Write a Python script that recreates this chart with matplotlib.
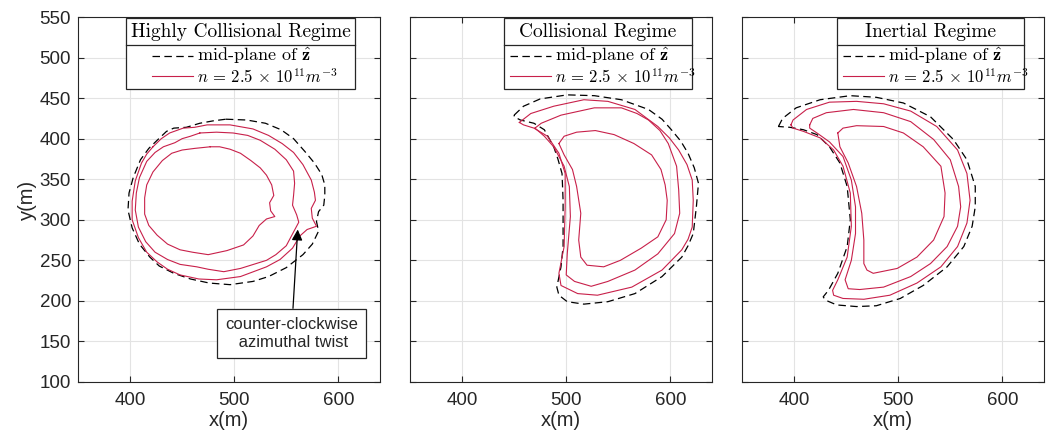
import numpy as np
import matplotlib.pyplot as plt
import matplotlib.patches as patches

plt.rcParams['font.family'] = ['Liberation Sans', 'DejaVu Sans']
plt.rcParams['mathtext.fontset'] = 'cm'

RED = '#c8204a'
DARK = '#262626'

# ---- panel 1: highly collisional ----
hc_dash = [(492, 424), (512, 423), (530, 419), (545, 411), (557, 400), (568, 384), (577, 370),
           (584, 356), (587, 343), (587, 330), (586, 318), (581, 310), (579, 298), (581, 286),
           (575, 270), (566, 257), (550, 241), (533, 230), (518, 224), (496, 220), (476, 222),
           (458, 227), (442, 234), (428, 243), (419, 254), (409, 270), (402, 290), (398, 312),
           (399, 333), (403, 352), (410, 374), (418, 388), (426, 398), (435, 409), (442, 413),
           (454, 414), (467, 419), (480, 422), (492, 424)]
hc_red1 = [(422, 390), (430, 400), (438, 407), (451, 413), (462, 414), (474, 417), (496, 417),
           (518, 412), (533, 404), (546, 394), (557, 383), (566, 368), (574, 349), (577, 334),
           (578, 324), (574, 314), (575, 302), (579, 292), (570, 288), (563, 280), (556, 265),
           (544, 251), (531, 242), (506, 230), (483, 226), (466, 227), (448, 232), (436, 239),
           (426, 248), (416, 260), (408, 278), (402, 300), (402, 323), (405, 348), (411, 370),
           (416, 381), (422, 390)]
hc_red2 = [(467, 407), (483, 408), (499, 407), (513, 404), (525, 398), (539, 387), (550, 374),
           (557, 360), (558, 345), (557, 330), (556, 318), (560, 306), (562, 297), (557, 285),
           (550, 268), (540, 257), (531, 250), (506, 240), (490, 236), (475, 239), (464, 242),
           (448, 245), (436, 251), (424, 260), (415, 273), (408, 291), (405, 312), (406, 333),
           (409, 352), (416, 372), (424, 383), (432, 390), (443, 395), (450, 400), (458, 403),
           (467, 407)]
hc_red3 = [(477, 390), (486, 390), (496, 387), (506, 382), (516, 373), (525, 364), (531, 355),
           (536, 343), (538, 330), (534, 321), (535, 311), (539, 304), (531, 301), (524, 293),
           (518, 280), (509, 269), (493, 262), (475, 257), (460, 260), (448, 263), (436, 270),
           (426, 281), (418, 293), (414, 307), (414, 327), (416, 343), (422, 359), (431, 373),
           (440, 382), (450, 386), (462, 388), (477, 390)]

# ---- panel 2: collisional ----
co_dash = [(450, 429), (459, 440), (475, 449), (501, 454), (527, 453), (553, 448), (579, 436),
           (592, 424), (601, 411), (610, 397), (617, 382), (623, 364), (627, 345), (625, 316),
           (622, 283), (617, 268), (611, 254), (592, 230), (566, 209), (540, 199), (517, 196),
           (501, 199), (493, 207), (491, 217), (495, 242), (497, 267), (497, 324), (496, 357),
           (492, 375), (488, 390), (479, 411), (469, 419), (456, 423), (450, 427), (450, 429)]
co_red1 = [(455, 420), (466, 431), (488, 440), (517, 448), (540, 446), (566, 436), (588, 415),
           (599, 401), (608, 386), (616, 368), (621, 349), (622, 324), (621, 291), (617, 276),
           (611, 263), (592, 238), (563, 217), (530, 207), (511, 209), (495, 219), (493, 234),
           (498, 267), (499, 316), (499, 357), (493, 382), (482, 403), (469, 413), (459, 417),
           (455, 420)]
co_red2 = [(470, 413), (476, 419), (495, 429), (527, 438), (553, 438), (568, 431), (579, 423),
           (590, 410), (598, 394), (606, 366), (608, 337), (609, 308), (604, 283), (588, 258),
           (566, 238), (540, 224), (524, 218), (508, 224), (500, 232), (501, 258), (504, 304),
           (503, 341), (498, 366), (488, 390), (479, 403), (470, 413)]
co_red3 = [(493, 394), (498, 403), (510, 408), (528, 410), (546, 405), (565, 394), (582, 380),
           (591, 362), (595, 343), (597, 324), (596, 300), (588, 279), (572, 265), (552, 250),
           (536, 242), (520, 244), (514, 254), (512, 275), (514, 308), (510, 341), (506, 362),
           (498, 380), (493, 394)]

# ---- panel 3: inertial ----
in_dash = [(385, 415), (389, 425), (402, 438), (425, 448), (454, 453), (479, 451), (505, 444),
           (531, 427), (553, 399), (566, 374), (574, 341), (574, 316), (571, 292), (563, 267),
           (547, 242), (524, 219), (502, 203), (479, 194), (460, 193), (441, 195), (430, 201),
           (428, 205), (433, 213), (442, 234), (451, 267), (454, 300), (451, 341), (444, 370),
           (434, 390), (422, 405), (409, 411), (396, 414), (385, 415)]
in_red1 = [(397, 417), (399, 423), (412, 436), (434, 445), (460, 446), (486, 443), (512, 434),
           (537, 415), (557, 386), (566, 357), (569, 324), (566, 296), (557, 267), (541, 242),
           (518, 222), (492, 207), (467, 202), (447, 203), (438, 207), (437, 213), (442, 226),
           (451, 254), (455, 292), (454, 333), (447, 366), (438, 386), (425, 401), (409, 409),
           (399, 413), (397, 417)]
in_red2 = [(415, 417), (418, 425), (431, 432), (457, 436), (486, 432), (512, 421), (534, 399),
           (550, 374), (558, 341), (560, 316), (557, 292), (547, 267), (531, 246), (512, 230),
           (486, 217), (463, 214), (452, 215), (449, 226), (455, 250), (459, 283), (459, 316),
           (455, 349), (447, 378), (434, 396), (422, 407), (415, 413), (415, 417)]
in_red3 = [(442, 407), (447, 413), (460, 416), (486, 415), (505, 407), (524, 390), (541, 366),
           (545, 333), (544, 304), (534, 275), (518, 254), (499, 240), (476, 234), (470, 238),
           (467, 246), (467, 275), (465, 308), (460, 341), (452, 370), (444, 390), (442, 407)]

panels = [
    ('Highly Collisional Regime', hc_dash, [hc_red1, hc_red2, hc_red3], (0.159, 0.917)),
    ('Collisional Regime', co_dash, [co_red1, co_red2, co_red3], (0.312, 0.933)),
    ('Inertial Regime', in_dash, [in_red1, in_red2, in_red3], (0.315, 0.935)),
]
lefts = [78, 410, 742]

fig = plt.figure(figsize=(10.48, 4.42), dpi=100)

for i, (title, dash, reds, (lx0, lx1)) in enumerate(panels):
    ax = fig.add_axes([lefts[i] / 1048, 1 - 382 / 442, 302 / 1048, 365 / 442])
    d = np.array(dash)
    ax.plot(d[:, 0], d[:, 1], color='k', lw=0.9, ls=(0, (6, 3.5)))
    for r in reds:
        r = np.array(r)
        ax.plot(r[:, 0], r[:, 1], color=RED, lw=0.8)
    ax.set_xlim(350, 640)
    ax.set_ylim(100, 550)
    ax.set_xticks([400, 500, 600])
    ax.set_yticks(np.arange(100, 551, 50))
    ax.grid(True, color='#e3e3e3', lw=0.8)
    ax.set_axisbelow(True)
    ax.tick_params(direction='in', top=True, right=True, length=4, width=0.8,
                   colors=DARK, labelsize=13.5, pad=7)
    ax.tick_params(axis='y', pad=5)
    for s in ax.spines.values():
        s.set_color(DARK)
        s.set_linewidth(0.8)
    ax.set_xlabel('x(m)', fontsize=14.5, color=DARK, labelpad=2)
    if i == 0:
        ax.set_ylabel('y(m)', fontsize=14.5, color=DARK, labelpad=2)
    else:
        ax.set_yticklabels([])

    # legend box with title cell
    top, sep, bot = 0.997, 0.923, 0.803
    ax.add_patch(patches.Rectangle((lx0, bot), lx1 - lx0, top - bot, transform=ax.transAxes,
                                   fc='white', ec=DARK, lw=0.9, zorder=5))
    ax.plot([lx0, lx1], [sep, sep], transform=ax.transAxes, color=DARK, lw=0.9, zorder=6)
    xc = (lx0 + lx1) / 2
    ax.text(xc, (top + sep) / 2, title, transform=ax.transAxes, ha='center', va='center',
            family='cmr10', fontsize=14, zorder=7)
    hs = xc - 0.292
    ax.plot([hs, hs + 0.136], [0.893, 0.893], transform=ax.transAxes, color='k',
            lw=0.9, ls=(0, (6, 3.5)), zorder=7)
    ax.plot([hs, hs + 0.136], [0.837, 0.837], transform=ax.transAxes, color=RED,
            lw=0.8, zorder=7)
    ax.text(hs + 0.149, 0.893, r'mid-plane of $\hat{\mathbf{z}}$', transform=ax.transAxes,
            ha='left', va='center', family='cmr10', fontsize=13, zorder=7)
    ax.text(hs + 0.149, 0.837, r'$n\,=\,2.5\,\times\,10^{11}m^{-3}$', transform=ax.transAxes,
            ha='left', va='center', fontsize=12, zorder=7)

    if i == 0:
        ax.annotate('counter-clockwise\n azimuthal twist', xy=(561, 288), xytext=(555, 160),
                    ha='center', va='center', fontsize=12, color=DARK, linespacing=1.2,
                    bbox=dict(boxstyle='square,pad=0.5', fc='white', ec=DARK, lw=0.9),
                    arrowprops=dict(arrowstyle='-|>', color='k', lw=0.9,
                                    mutation_scale=16, shrinkA=0, shrinkB=0))

fig.savefig('out.png', dpi=100)
